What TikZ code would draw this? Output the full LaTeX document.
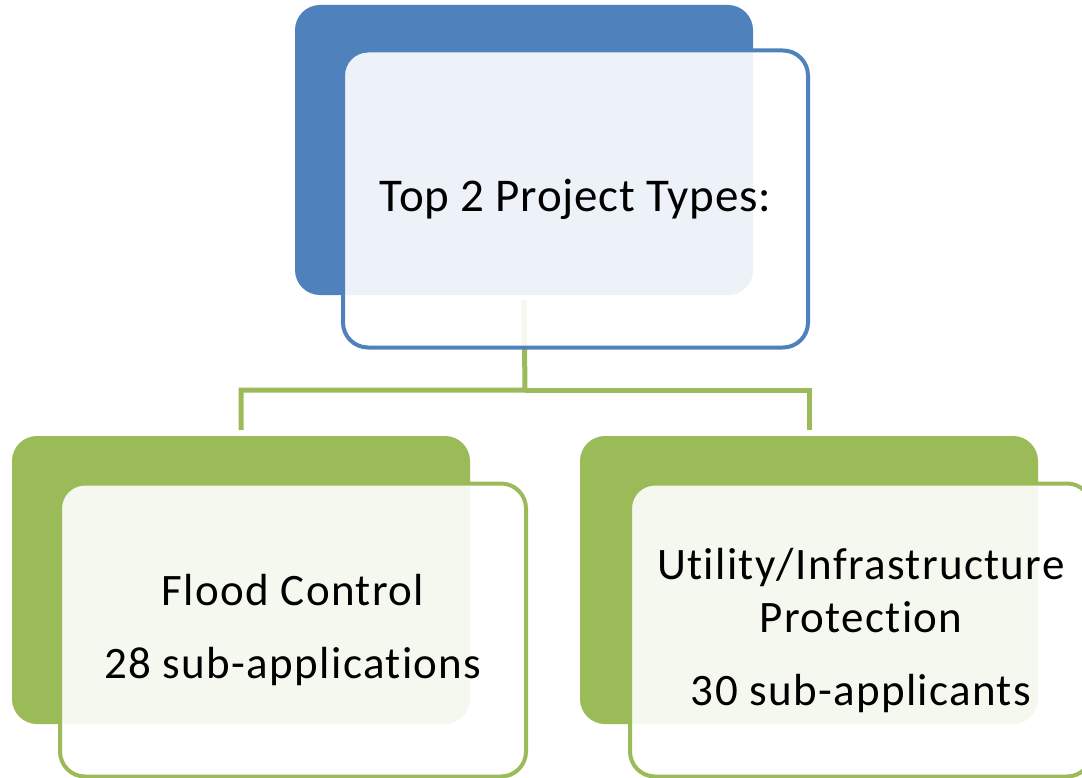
\documentclass[tikz,border=0pt]{standalone}
\usepackage{fontspec}
\setmainfont{Carlito}[Ligatures=NoCommon]
\definecolor{bblue}{HTML}{4F81BD}
\definecolor{bgreen}{HTML}{9BBB59}
\begin{document}
\begin{tikzpicture}[x=1pt,y=-1pt,
  backbox/.style={rounded corners=25pt,inner sep=0pt,minimum width=#1},
  frontbox/.style={rounded corners=25pt,inner sep=0pt,line width=4pt,fill=white,fill opacity=0.9,text opacity=1,align=center,text=black},
  conn/.style={draw=bgreen,line width=5pt}]
\useasboundingbox (0,0) rectangle (1082,778);
% back boxes
\node[backbox=458pt,fill=bblue,minimum height=290pt] (tb) at (524,150) {};
\node[backbox=458pt,fill=bgreen,minimum height=288pt] (lb) at (241,580) {};
\node[backbox=458pt,fill=bgreen,minimum height=288pt] (rb) at (809,580) {};
% connectors
\coordinate (mid) at (525,390);
\draw[conn] ([yshift=-5pt]tb.south) -- (mid) -| ([yshift=6pt]lb.north);
\draw[conn] (mid) -| ([yshift=6pt]rb.north);
% front boxes
\node[frontbox,draw=bblue,minimum width=465pt,minimum height=297pt,font=\fontsize{47}{56}\selectfont\addfontfeature{LetterSpace=1.5}] (tf) at (575.5,199) {Top 2 Project Types:};
\node[frontbox,draw=bgreen,minimum width=466pt,minimum height=293pt,font=\fontsize{45}{53}\selectfont\addfontfeature{LetterSpace=3}] (lf) at (293,630) {Flood Control\\[20pt]28 sub-applications};
\node[frontbox,draw=bgreen,minimum width=462pt,minimum height=293pt,font=\fontsize{45}{53}\selectfont\addfontfeature{LetterSpace=3}] (rf) at (861,630) {Utility/Infrastructure\\Protection\\[20pt]30 sub-applicants};
\end{tikzpicture}
\end{document}
